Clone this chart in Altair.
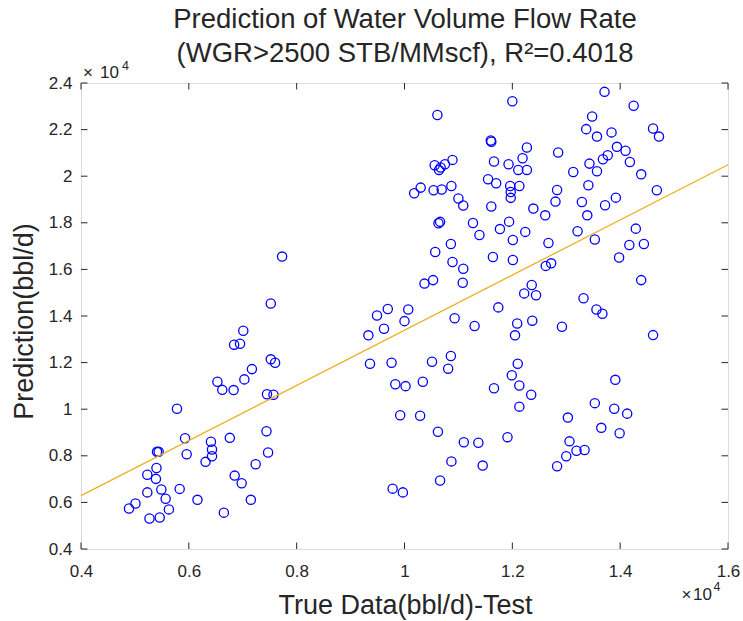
import altair as alt
import pandas as pd

# values in units of 10^4 bbl/d
true_x = [
    0.773, 0.752, 0.701, 0.684, 0.695, 0.752, 0.760, 0.717, 0.653, 0.662, 0.703, 0.683,
    0.578, 0.745, 0.757, 0.593, 0.676, 0.744, 0.641, 0.643, 0.643, 0.631, 0.596, 0.541,
    0.544, 0.747, 0.540, 0.523, 0.539, 0.724, 0.685, 0.698, 0.583, 0.549, 0.523, 0.557,
    0.616, 0.715, 0.501, 0.489, 0.563, 0.665, 0.527, 0.546,
    1.200, 1.061, 1.160, 1.161, 1.219, 1.166, 1.193, 1.211, 1.227, 1.056, 1.067, 1.075,
    1.089, 1.064, 1.018, 1.030, 1.054, 1.069, 1.087, 1.100, 1.109, 1.155, 1.170, 1.196,
    1.197, 1.197, 1.213, 1.161, 1.239, 1.063, 1.066, 1.127, 1.139, 1.177, 1.194, 1.224,
    1.201, 1.086, 1.057, 1.164, 1.201, 1.089, 1.109, 1.037, 1.053, 1.108, 1.174, 0.969,
    0.949, 1.007, 1.000, 1.093,
    0.962, 0.933, 1.130, 1.209, 1.205, 0.936, 0.976, 1.051, 1.086, 1.081, 0.983, 1.002,
    1.034, 1.210, 1.199, 1.213, 1.166, 1.235, 1.213, 0.992, 1.029, 1.062, 1.110, 1.137,
    1.191, 1.087, 1.145, 1.066, 0.978, 0.997,
    1.371, 1.425, 1.348, 1.337, 1.357, 1.384, 1.461, 1.472, 1.227, 1.285, 1.394, 1.410,
    1.377, 1.368, 1.418, 1.343, 1.357, 1.313, 1.439, 1.341, 1.468, 1.283, 1.280, 1.329,
    1.392, 1.372, 1.261, 1.339, 1.321, 1.429, 1.353, 1.267, 1.417, 1.444, 1.398, 1.262,
    1.272, 1.439, 1.236, 1.222, 1.244, 1.332, 1.356, 1.367,
    1.237, 1.292, 1.461, 1.391, 1.353, 1.389, 1.413, 1.303, 1.365, 1.399, 1.306, 1.319,
    1.334, 1.300, 1.283,
]
pred_y = [
    1.655, 1.454, 1.337, 1.277, 1.281, 1.214, 1.199, 1.172, 1.118, 1.083, 1.128, 1.082,
    1.002, 1.064, 1.062, 0.875, 0.877, 0.905, 0.860, 0.827, 0.798, 0.774, 0.807, 0.817,
    0.817, 0.814, 0.748, 0.719, 0.701, 0.764, 0.715, 0.682, 0.658, 0.655, 0.643, 0.616,
    0.611, 0.611, 0.595, 0.574, 0.570, 0.556, 0.531, 0.535,
    2.322, 2.263, 2.153, 2.148, 2.077, 2.063, 2.051, 2.027, 2.027, 2.047, 2.037, 2.051,
    2.070, 2.027, 1.927, 1.951, 1.940, 1.943, 1.958, 1.904, 1.874, 1.987, 1.970, 1.958,
    1.932, 1.907, 1.958, 1.870, 1.861, 1.798, 1.804, 1.799, 1.748, 1.773, 1.805, 1.761,
    1.726, 1.709, 1.675, 1.653, 1.640, 1.632, 1.603, 1.539, 1.554, 1.543, 1.437, 1.430,
    1.402, 1.428, 1.378, 1.390,
    1.345, 1.317, 1.357, 1.368, 1.317, 1.195, 1.199, 1.204, 1.228, 1.174, 1.107, 1.099,
    1.118, 1.195, 1.146, 1.102, 1.090, 1.062, 1.011, 0.974, 0.972, 0.903, 0.858, 0.856,
    0.880, 0.776, 0.758, 0.694, 0.659, 0.643,
    2.362, 2.302, 2.256, 2.202, 2.170, 2.188, 2.205, 2.170, 2.123, 2.102, 2.126, 2.109,
    2.090, 2.073, 2.061, 2.054, 2.021, 2.018, 2.008, 1.961, 1.940, 1.941, 1.891, 1.889,
    1.908, 1.875, 1.832, 1.832, 1.764, 1.775, 1.728, 1.713, 1.705, 1.709, 1.651, 1.615,
    1.626, 1.554, 1.533, 1.497, 1.489, 1.476, 1.428, 1.410,
    1.380, 1.354, 1.318, 1.126, 1.026, 1.002, 0.981, 0.964, 0.920, 0.897, 0.862, 0.822,
    0.825, 0.798, 0.755,
]
fit_x = [0.4, 1.6]
fit_y = [0.629, 2.049]
x_ticks = [0.4, 0.6, 0.8, 1.0, 1.2, 1.4, 1.6]
y_ticks = [0.4, 0.6, 0.8, 1.0, 1.2, 1.4, 1.6, 1.8, 2.0, 2.2, 2.4]
title_lines = ["Prediction of Water Volume Flow Rate", "(WGR>2500 STB/MMscf), R²=0.4018"]
x_label = "True Data(bbl/d)-Test"
y_label = "Prediction(bbl/d)"

W, H = 647, 466
FONT = "Liberation Sans"
TXT = "#262626"

pts = pd.DataFrame({"x": true_x, "y": pred_y})
fit = pd.DataFrame({"x": fit_x, "y": fit_y})
xt = pd.DataFrame({"v": x_ticks})
yt = pd.DataFrame({"v": y_ticks})

xs = alt.Scale(domain=[0.4, 1.6], nice=False, zero=False)
ys = alt.Scale(domain=[0.4, 2.4], nice=False, zero=False)

x_axis = alt.Axis(values=x_ticks, format="~g", grid=False, domain=False, ticks=False, tickSize=0,
                  labelFlush=False, labelOverlap=False,
                  labelFontSize=17, labelColor=TXT, labelPadding=14, labelFont=FONT,
                  title=x_label, titleFontSize=27, titleFontWeight="normal", titleColor=TXT,
                  titleFont=FONT, titleX=324, titleY=64, titleBaseline="alphabetic",
                  titleAlign="center")
y_axis = alt.Axis(values=y_ticks, format="~g", grid=False, domain=False, ticks=False, tickSize=0,
                  labelFlush=False, labelOverlap=False,
                  labelFontSize=17, labelColor=TXT, labelPadding=9, labelFont=FONT,
                  title=y_label, titleFontSize=27, titleFontWeight="normal", titleColor=TXT,
                  titleFont=FONT, titleX=-48.5, titleY=238, titleAngle=270,
                  titleBaseline="alphabetic", titleAlign="center")

points = alt.Chart(pts).mark_point(shape="circle", filled=False, color="#0000FF",
                                   size=85, strokeWidth=1.3, opacity=1).encode(
    x=alt.X("x:Q", scale=xs, axis=x_axis),
    y=alt.Y("y:Q", scale=ys, axis=y_axis),
)
line = alt.Chart(fit).mark_line(color="#EDB120", strokeWidth=1.3).encode(
    x=alt.X("x:Q", scale=xs), y=alt.Y("y:Q", scale=ys))

TL = 6.5
tick_bottom = alt.Chart(xt).mark_rule(color=TXT, strokeWidth=1).encode(
    x=alt.X("v:Q", scale=xs), y=alt.value(H), y2=alt.value(H - TL))
tick_top = alt.Chart(xt).mark_rule(color=TXT, strokeWidth=1).encode(
    x=alt.X("v:Q", scale=xs), y=alt.value(0), y2=alt.value(TL))
tick_left = alt.Chart(yt).mark_rule(color=TXT, strokeWidth=1).encode(
    y=alt.Y("v:Q", scale=ys), x=alt.value(0), x2=alt.value(TL))
tick_right = alt.Chart(yt).mark_rule(color=TXT, strokeWidth=1).encode(
    y=alt.Y("v:Q", scale=ys), x=alt.value(W), x2=alt.value(W - TL))


def label(text, x, y, size, align="left"):
    return alt.Chart(pd.DataFrame({"t": [text]})).mark_text(
        font=FONT, fontSize=size, color=TXT, align=align, baseline="alphabetic").encode(
        text="t:N", x=alt.value(x), y=alt.value(y))


texts = [
    label(title_lines[0], 324, -55.5, 27.5, "center"),
    label(title_lines[1], 324, -21.5, 27.5, "center"),
    label("×", 2, -5, 17), label("10", 19, -5, 17), label("4", 41, -13, 12.5),
    label("×", 600.5, 516.5, 17), label("10", 612, 516.5, 17), label("4", 632.5, 508, 12.5),
]

chart = alt.layer(points, line, tick_bottom, tick_top, tick_left, tick_right, *texts).properties(
    width=W, height=H,
    autosize=alt.AutoSizeParams(type="none"),
    padding={"left": 81, "top": 83, "right": 15, "bottom": 72},
    background="white",
).configure_view(stroke="#333333", strokeWidth=1).configure(font=FONT)

chart.save("out.html", embed_options={"renderer": "svg", "actions": False})
